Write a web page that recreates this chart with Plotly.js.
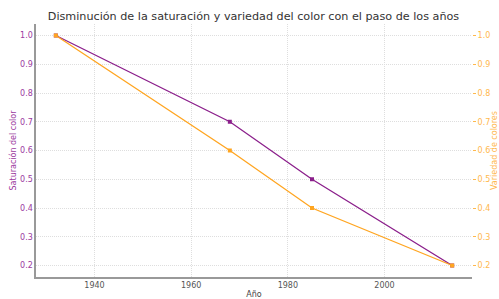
<!DOCTYPE html>
<html>
<head>
<meta charset="utf-8">
<script src="https://cdn.plot.ly/plotly-3.0.1.min.js"></script>
<style>html,body{margin:0;padding:0;background:#fff}#chart{width:499px;height:299px}</style>
</head>
<body>
<div id="chart"></div>
<script>
const years = [1932, 1968, 1985, 2014];
const saturation = [1.0, 0.7, 0.5, 0.2];
const variety = [1.0, 0.6, 0.4, 0.2];
const xTicks = [1940, 1960, 1980, 2000];
const yTicks = [0.2, 0.3, 0.4, 0.5, 0.6, 0.7, 0.8, 0.9, 1.0];

const purple = '#8B1F8B';
const orange = '#FFA520';
const font = 'DejaVu Sans, sans-serif';

const traces = [
  {x: years, y: saturation, mode: 'lines+markers', name: 'Saturación del color',
   line: {color: purple, width: 1.3}, marker: {color: purple, symbol: 'square', size: 4}, yaxis: 'y'},
  {x: years, y: variety, mode: 'lines+markers', name: 'Variedad de colores',
   line: {color: orange, width: 1.3}, marker: {color: orange, symbol: 'square', size: 4}, yaxis: 'y2'}
];

const layout = {
  width: 499, height: 299,
  margin: {l: 36, r: 27, t: 24, b: 22},
  paper_bgcolor: '#fff', plot_bgcolor: '#fff',
  showlegend: false,
  font: {family: font, size: 8, color: '#444'},
  title: {text: 'Disminución de la saturación y variedad del color con el paso de los años',
          font: {family: font, size: 11.2, color: '#333'}, x: 0.508, xanchor: 'center', y: 0.945, yanchor: 'middle'},
  xaxis: {range: [1927.9, 2018.1], tickvals: xTicks, ticktext: xTicks.map(String),
          showgrid: true, gridcolor: '#dedede', griddash: '1px,1px', gridwidth: 1,
          showline: true, linecolor: '#999', linewidth: 1.6, zeroline: false,
          ticks: '', tickfont: {size: 8, color: '#555'},
          title: {text: 'Año', font: {size: 8, color: '#444'}, standoff: 6}},
  yaxis: {range: [0.16, 1.04], tickvals: yTicks, ticktext: yTicks.map(v => v.toFixed(1)),
          showgrid: true, gridcolor: '#dedede', griddash: '1px,1px', gridwidth: 1,
          showline: true, linecolor: '#999', linewidth: 1.6, zeroline: false,
          ticks: '', tickfont: {size: 8, color: '#9B3AA0'},
          title: {text: 'Saturación del color', font: {size: 8, color: '#9B3AA0'}, standoff: 2}},
  yaxis2: {range: [0.16, 1.04], tickvals: yTicks, ticktext: yTicks.map(v => v.toFixed(1)),
           overlaying: 'y', side: 'right', showgrid: false, zeroline: false, showline: false,
           ticks: 'outside', ticklen: 3, tickcolor: '#FFB84D', tickfont: {size: 8, color: '#FFB84D'},
           title: {text: 'Variedad de colores', font: {size: 8, color: '#FFB84D'}, standoff: 4}}
};

Plotly.newPlot('chart', traces, layout, {displayModeBar: false, staticPlot: true});
</script>
</body>
</html>
